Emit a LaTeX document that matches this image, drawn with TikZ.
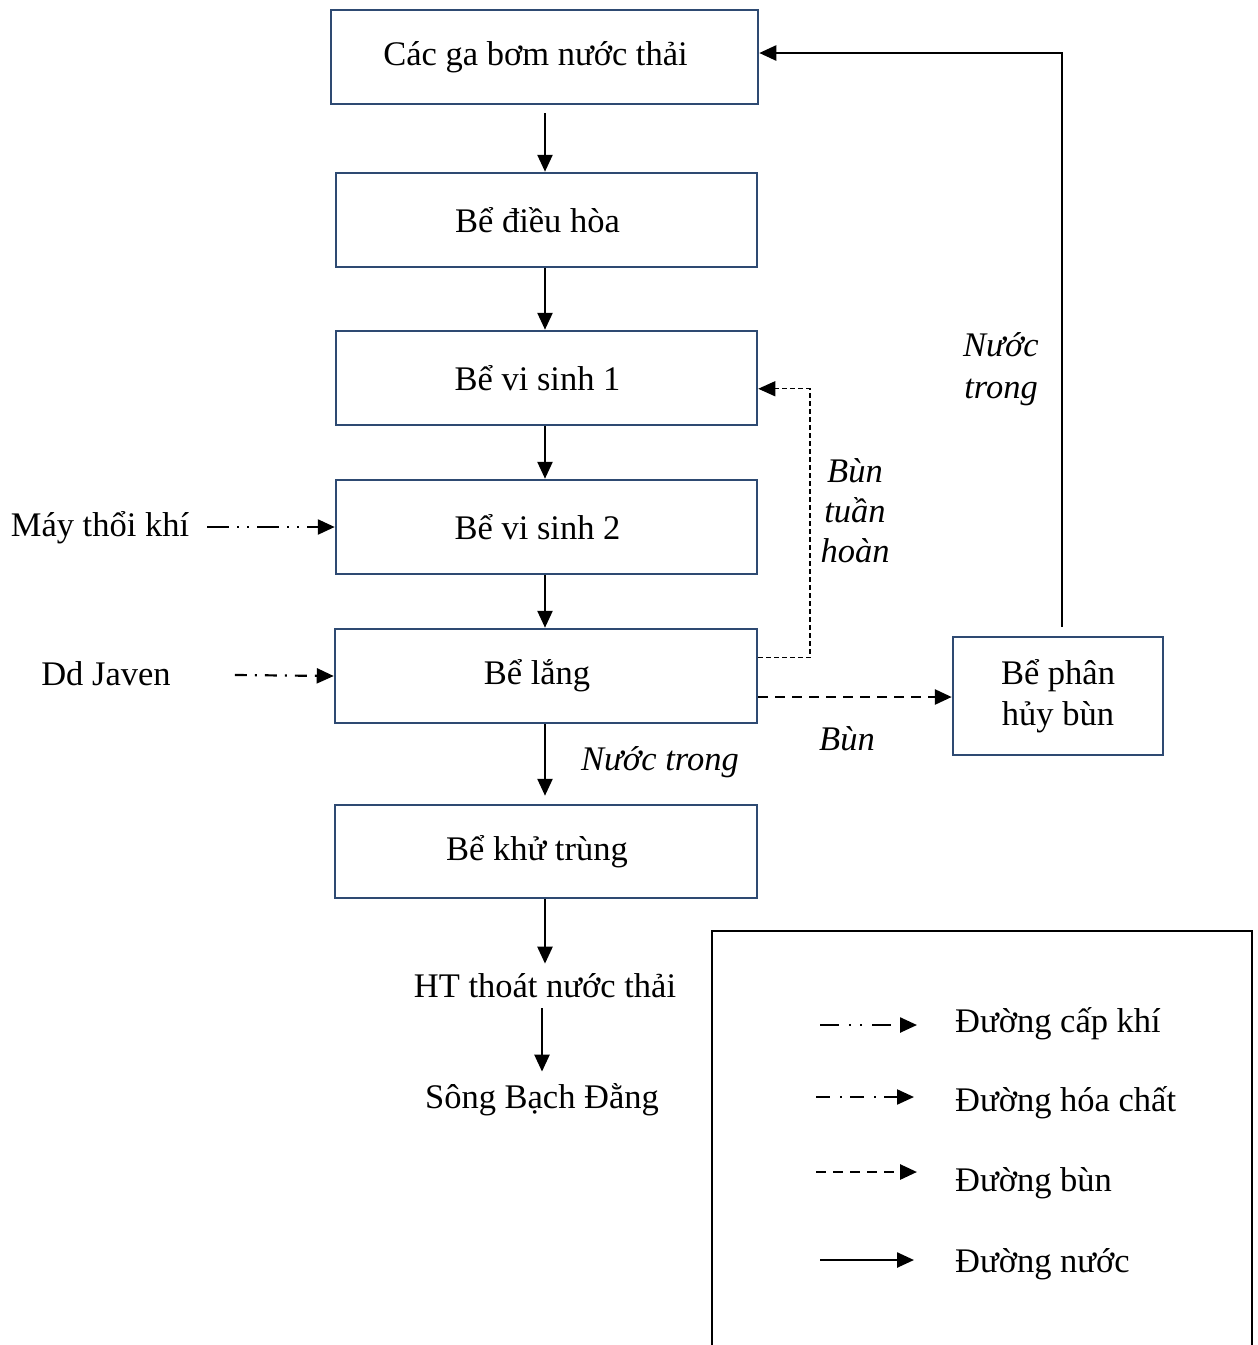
\documentclass[tikz,border=0pt]{standalone}
\usepackage{fontspec}
\setmainfont{Liberation Serif}
\usetikzlibrary{arrows.meta,calc}
\definecolor{boxblue}{HTML}{2E4A72}
\begin{document}
\begin{tikzpicture}[x=1pt,y=-1pt,
  font=\fontsize{34.5}{41}\selectfont,
  tank/.style={draw=boxblue,line width=2.5pt,minimum height=94pt,inner sep=0pt,align=center},
  lefttext/.style={execute at end node={\hbox to 18pt{}}},
  lbl/.style={inner sep=0pt,align=center},
  tip/.style={-{Triangle[length=17pt,width=15pt]}},
  water/.style={tip,line width=2.5pt},
  air/.style={tip,line width=2.5pt,dash pattern=on 22pt off 8pt on 2pt off 8pt on 2pt off 8pt},
  chem/.style={tip,line width=2.2pt,dash pattern=on 12pt off 8pt on 2pt off 8pt},
  sludge/.style={tip,line width=2.8pt,dash pattern=on 10pt off 7pt},
  recyc/.style={tip,line width=1.2pt,dash pattern=on 5pt off 3pt}]
\useasboundingbox (0,0) rectangle (1258,1345);

% process tanks
\node[tank,lefttext,minimum width=427pt] (b1) at (544.5,57) {Các ga bơm nước thải};
\node[tank,lefttext,minimum width=421pt] (b2) at (546.5,220) {Bể điều hòa};
\node[tank,lefttext,minimum width=421pt] (b3) at (546.5,378) {Bể vi sinh 1};
\node[tank,lefttext,minimum width=421pt] (b4) at (546.5,527) {Bể vi sinh 2};
\node[tank,lefttext,minimum width=422pt] (b5) at (546,676) {Bể lắng};
\node[tank,lefttext,minimum width=422pt,minimum height=93pt] (b6) at (546,851.5) {Bể khử trùng};
\node[tank,minimum width=210pt,minimum height=118pt] (b7) at (1058,696) {Bể phân\\hủy bùn};

% plain text nodes
\node[lbl] (ht) at (545,986) {HT thoát nước thải};
\node[lbl] (song) at (542,1100) {Sông Bạch Đằng};
\node[lbl] (may) at (100,528) {Máy thổi khí};
\node[lbl] (javen) at (106,674) {Dd Javen};

% main water line
\coordinate (ax) at (545,0);
\draw[water] (b1.south -| ax) ++(0,8) -- (ax |- b2.north);
\draw[water] (b2.south -| ax) -- (ax |- b3.north);
\draw[water] (b3.south -| ax) -- (ax |- b4.north);
\draw[water] (b4.south -| ax) -- (ax |- b5.north);
\draw[water] (b5.south -| ax) -- ($(ax |- b6.north)+(0,-8)$);
\node[lbl,font=\fontsize{34.5}{41}\selectfont\itshape] (nt1) at (660,762) {Nước trong};
\draw[water] (b6.south -| ax) -- ($(ax |- ht.north)+(0,-10)$);
\draw[water] ($(ht.south)+(-3,10)$) -- ($(song.north)+(0,-12)$);

% air and chemical feeds
\draw[air] ($(may.east)+(18,-1)$) -- (b4.west);
\draw[chem] ($(javen.east)+(64,1)$) -- (b5.west);

% sludge recirculation
\coordinate (r1) at (810,0);
\draw[recyc] ($(b5.north east)+(0,30)$) -| ($(r1 |- b3.north)+(0,59)$) -- ($(b3.north east)+(0,59)$);
\node[lbl,font=\fontsize{34.5}{40}\selectfont\itshape] (bth) at (855,511) {Bùn\\tuần\\hoàn};

% excess sludge
\draw[sludge] ($(b5.east |- b7.west)+(0,1)$) -- ($(b7.west)+(0,1)$);
\node[lbl,font=\fontsize{34.5}{41}\selectfont\itshape] (bun) at (847,739) {Bùn};

% clarified water return
\draw[water] ($(b7.north)+(4,-9)$) |- ($(b1.east)+(0,-4)$);
\node[lbl,font=\fontsize{34.5}{42}\selectfont\itshape] (nt2) at (1001,369) {Nước\\trong};

% legend
\draw[line width=2pt] (712,1346) -- (712,931) -- (1252,931) -- (1252,1346);
\coordinate (l1a) at (820,1025); \coordinate (l1b) at (917,1025);
\coordinate (l2a) at (816,1097); \coordinate (l2b) at (914,1097);
\coordinate (l3a) at (816,1172); \coordinate (l3b) at (917,1172);
\coordinate (l4a) at (820,1260); \coordinate (l4b) at (914,1260);
\draw[air,dash pattern=on 19pt off 10pt on 2pt off 9pt on 2pt off 10pt] (l1a) -- (l1b);
\draw[chem,dash pattern=on 14pt off 10pt on 2pt off 8pt] (l2a) -- (l2b);
\draw[sludge] (l3a) -- (l3b);
\draw[water] (l4a) -- (l4b);
\node[lbl,anchor=west] (t1) at (955,1024) {Đường cấp khí};
\node[lbl,anchor=west] (t2) at (955,1103) {Đường hóa chất};
\node[lbl,anchor=west] (t3) at (955,1183) {Đường bùn};
\node[lbl,anchor=west] (t4) at (955,1264) {Đường nước};
\end{tikzpicture}
\end{document}
